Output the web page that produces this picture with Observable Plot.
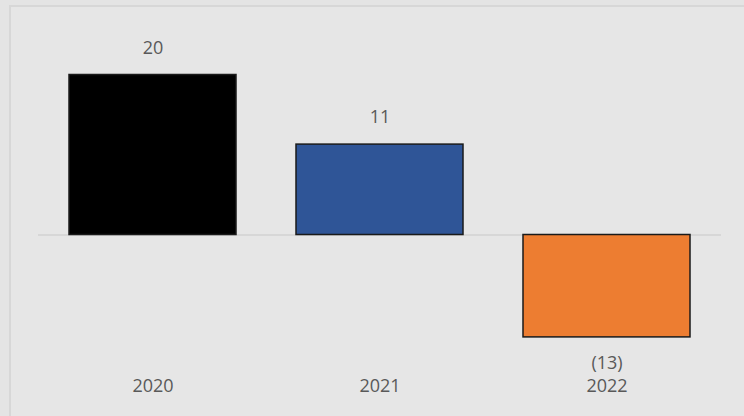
<!DOCTYPE html>
<html>
<head>
<meta charset="utf-8">
<script src="https://cdn.jsdelivr.net/npm/d3@7"></script>
<script src="https://cdn.jsdelivr.net/npm/@observablehq/plot@0.6"></script>
<style>
  html, body { margin: 0; padding: 0; background: #e4e4e4; overflow: hidden; }
  #wrap { position: relative; width: 744px; height: 416px; }
  #border { position: absolute; left: 9px; top: 5px; width: 760px; height: 440px;
            border: 2px solid #d7d7d7; background: #e6e6e6; box-sizing: border-box; }
  #chart { position: absolute; left: 0; top: 0; }
</style>
</head>
<body>
<div id="wrap"><div id="border"></div><div id="chart"></div></div>
<script>
const years = ["2020", "2021", "2022"];
const values = [20, 11.3, -12.8];
const colors = ["#000000", "#2f5597", "#ed7d31"];

const data = years.map((y, i) => ({year: y, value: values[i], color: colors[i]}));
const fmt = v => v < 0 ? `(${Math.round(-v)})` : `${Math.round(v)}`;
const font = "'Open Sans', sans-serif";

const chart = Plot.plot({
  width: 744,
  height: 416,
  marginLeft: 38,
  marginRight: 23,
  marginTop: 42.5,
  marginBottom: 53.5,
  style: {background: "transparent", fontFamily: font, fontSize: "18px", color: "#595959"},
  x: {domain: years, paddingInner: 0.265, paddingOuter: 0.1325, axis: null},
  y: {domain: [-16, 24], axis: null},
  marks: [
    Plot.ruleY([0], {stroke: "#d2d2d2", strokeWidth: 1.5}),
    Plot.barY(data, {x: "year", y: "value", fill: "color", stroke: "#1a1a1a", strokeWidth: 1.5}),
    Plot.text(data.filter(d => d.value >= 0), {x: "year", y: "value", text: d => fmt(d.value), dy: -27, lineAnchor: "middle", fill: "#595959", fontSize: 18}),
    Plot.text(data.filter(d => d.value < 0), {x: "year", y: "value", text: d => fmt(d.value), dy: 26, lineAnchor: "middle", fill: "#595959", fontSize: 18}),
    Plot.text(years, {x: d => d, frameAnchor: "bottom", dy: 23, lineAnchor: "middle", fill: "#595959", fontSize: 18})
  ]
});
document.getElementById("chart").appendChild(chart);
</script>
</body>
</html>
